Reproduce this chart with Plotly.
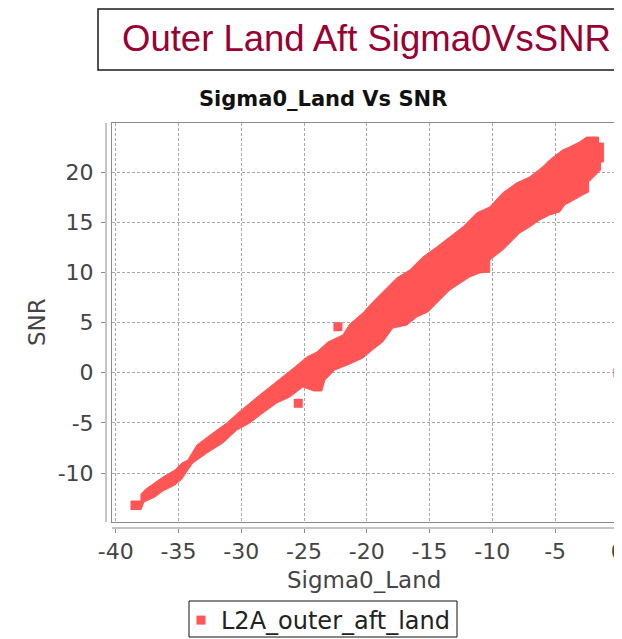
import plotly.graph_objects as go

# ---------------- data ----------------
# outline of the dense scatter band: upper edge left->right, then lower edge right->left
band_x = [-38.78, -38.78, -37.99, -37.99, -37.59, -36.24, -35.28, -34.73, -34.25, -33.53,
          -32.26, -31.15, -30.27, -29.32, -28.53, -27.33, -26.70, -25.73, -24.78, -23.98,
          -23.10, -21.91, -21.35, -20.32, -19.37, -18.57, -17.62, -16.58, -15.54, -14.43,
          -13.39, -12.36, -11.25, -10.21, -9.18, -8.07, -7.03, -6.00, -5.44, -4.40,
          -3.85, -3.05, -2.49, -1.54, -1.54, -1.14, -1.14, -1.38, -1.38, -2.33,
          -2.33, -2.81, -4.24, -4.64, -5.44, -6.23, -7.03, -7.82, -8.38, -9.18,
          -10.21, -10.21, -11.01, -11.81, -13.39, -14.19, -15.14, -16.02, -16.81, -17.93,
          -18.73, -19.37, -20.32, -21.35, -22.55, -23.34, -23.58, -24.22, -25.09, -26.13,
          -27.17, -28.28, -29.32, -30.35, -31.47, -32.74, -33.86, -34.25, -34.73, -35.28,
          -36.24, -36.88, -37.75, -37.99]
band_y = [-13.68, -12.79, -12.79, -12.09, -11.59, -10.40, -9.70, -9.00, -8.70, -7.21,
          -6.01, -5.01, -4.02, -3.02, -2.22, -1.03, -0.43, 0.57, 1.56, 2.06,
          3.06, 3.76, 4.85, 5.95, 7.25, 8.24, 9.44, 10.24, 11.53, 12.53,
          13.53, 14.52, 15.92, 16.52, 17.92, 18.91, 19.51, 20.51, 21.21, 22.20,
          22.50, 23.00, 23.49, 23.49, 22.89, 22.89, 21.00, 21.00, 20.20, 19.01,
          18.01, 17.71, 16.71, 16.01, 15.72, 15.22, 14.52, 13.92, 13.22, 12.22,
          11.23, 10.03, 9.94, 9.54, 8.24, 7.25, 6.05, 5.55, 4.75, 4.45,
          3.06, 2.46, 1.46, 0.87, 0.27, -0.73, -1.82, -1.82, -1.42, -2.42,
          -3.02, -4.02, -5.01, -5.71, -7.01, -8.01, -9.00, -9.70, -10.60, -11.19,
          -11.79, -12.39, -12.89, -13.68]

# isolated points
pts_x = [-22.3, -25.46, 0.0]
pts_y = [4.58, -3.05, 0.0]

series_name = "L2A_outer_aft_land"
x_ticks = [-40, -35, -30, -25, -20, -15, -10, -5, 0]
x_tick_text = ["-40", "-35", "-30", "-25", "-20", "-15", "-10", "-5", "0"]
y_ticks = [-10, -5, 0, 5, 10, 15, 20]
y_tick_text = ["-10", "-5", "0", "5", "10", "15", "20"]

# ---------------- layout geometry ----------------
OFF = 8                     # page body margin of the html page
W, H = 622 - OFF, 639 - OFF
# screen-pixel positions (reference) of the axes area / frame
SX0, SX1, SY0, SY1 = 106, 618, 123, 528   # outer area (offset axis lines)
FX0, FX1, FY0, FY1 = 112, 618, 123, 522   # inner plot frame
L, R, T, B = SX0 - OFF, W - (SX1 - OFF), SY0 - OFF, H - (SY1 - OFF)
pw, ph = W - L - R, H - T - B

def px_x(p):
    return (p - OFF - L) / pw

def px_y(p):
    return (H - B - (p - OFF)) / ph

# pixel scale of the axes (screen pixels)
sx = (618.3 - 115.7) / 40.0
sy = (472.7 - 171.7) / 30.0
x0_px, y0_px = 618.3, 372.7  # screen pixel of x=0, y=0

in_xr = [(FX0 - x0_px) / sx, 0.01]
in_yr = [(y0_px - FY1) / sy, (y0_px - FY0) / sy]
out_xr = [(SX0 - x0_px) / sx, 0.01]
out_yr = [(y0_px - SY1) / sy, (y0_px - SY0) / sy]

RED = "#FF5555"
GRID = "#a9a9a9"
FRAME = "#8a8a8a"
TXT = "#444444"
FONT = "DejaVu Sans"

fig = go.Figure()
# dummy on outer axes so they render
fig.add_trace(go.Scatter(x=[None], y=[None], xaxis="x", yaxis="y",
                         showlegend=False, hoverinfo="skip"))
fig.add_trace(go.Scatter(x=band_x, y=band_y, xaxis="x2", yaxis="y2", mode="lines",
                         fill="toself", fillcolor=RED, line=dict(color=RED, width=1),
                         showlegend=False, hoverinfo="skip"))
fig.add_trace(go.Scatter(x=pts_x, y=pts_y, xaxis="x2", yaxis="y2", mode="markers",
                         marker=dict(symbol="square", size=9, color=RED),
                         name=series_name, showlegend=True))

fig.update_layout(
    width=W, height=H,
    margin=dict(l=L, r=R, t=T, b=B, pad=0, autoexpand=False),
    paper_bgcolor="white", plot_bgcolor="white",
    font=dict(family=FONT, color=TXT),
    xaxis=dict(domain=[0, 1], range=out_xr, tickvals=x_ticks, ticktext=x_tick_text,
               showgrid=False, zeroline=False, showline=False, ticks="outside", ticklen=4,
               tickcolor=FRAME, tickfont=dict(size=22, color=TXT, family=FONT),
               anchor="y", fixedrange=True, automargin=False, ticklabeloverflow="allow"),
    yaxis=dict(domain=[0, 1], range=out_yr, tickvals=y_ticks, ticktext=y_tick_text,
               showgrid=False, zeroline=False, showline=False, ticks="outside", ticklen=4,
               tickcolor=FRAME, tickfont=dict(size=22, color=TXT, family=FONT),
               anchor="x", fixedrange=True, ticklabelstandoff=3, automargin=False,
               ticklabeloverflow="allow"),
    xaxis2=dict(domain=[px_x(FX0), px_x(FX1)], range=in_xr, tickvals=x_ticks,
                showgrid=True, gridcolor=GRID, griddash="3px,2px", gridwidth=1,
                zeroline=False, showline=True, mirror=True, linecolor=FRAME, linewidth=1,
                showticklabels=False, ticks="", anchor="y2", fixedrange=True),
    yaxis2=dict(domain=[px_y(FY1), px_y(FY0)], range=in_yr, tickvals=y_ticks,
                showgrid=True, gridcolor=GRID, griddash="3px,2px", gridwidth=1,
                zeroline=False, showline=True, mirror=True, linecolor=FRAME, linewidth=1,
                showticklabels=False, ticks="", anchor="x2", fixedrange=True),
    legend=dict(x=px_x(181), y=px_y(598), xanchor="left", yanchor="top",
                borderwidth=0, bgcolor="rgba(0,0,0,0)",
                font=dict(size=24, color="#222222", family=FONT),
                itemwidth=30),
    showlegend=True,
)

shapes = [
    # offset axis lines
    dict(type="line", xref="paper", yref="paper", x0=px_x(FX0), x1=px_x(FX1),
         y0=px_y(SY1), y1=px_y(SY1), line=dict(color=FRAME, width=1)),
    dict(type="line", xref="paper", yref="paper", x0=px_x(SX0), x1=px_x(SX0),
         y0=px_y(FY1), y1=px_y(FY0), line=dict(color=FRAME, width=1)),
    # header box
    dict(type="rect", xref="paper", yref="paper", x0=px_x(98), x1=px_x(650),
         y0=px_y(70), y1=px_y(9), line=dict(color="#1a1a1a", width=1.5)),
    # legend box
    dict(type="rect", xref="paper", yref="paper", x0=px_x(189), x1=px_x(457),
         y0=px_y(637), y1=px_y(601), line=dict(color="#111111", width=1)),
]
fig.update_layout(shapes=shapes)

annotations = [
    dict(text="Outer Land Aft Sigma0VsSNR", xref="paper", yref="paper",
         x=px_x(120), y=px_y(39), xanchor="left", yanchor="middle", showarrow=False,
         font=dict(family="Liberation Sans", size=36.5, color="#990033")),
    dict(text="<b>Sigma0_Land Vs SNR</b>", xref="paper", yref="paper",
         x=px_x(323), y=px_y(99), xanchor="center", yanchor="middle", showarrow=False,
         font=dict(family=FONT, size=21, color="#111111")),
    dict(text="Sigma0_Land", xref="paper", yref="paper",
         x=px_x(364), y=px_y(580), xanchor="center", yanchor="middle", showarrow=False,
         font=dict(family=FONT, size=23, color=TXT)),
    dict(text="SNR", xref="paper", yref="paper", textangle=-90,
         x=px_x(37), y=px_y(322), xanchor="center", yanchor="middle", showarrow=False,
         font=dict(family=FONT, size=23, color=TXT)),
]
fig.update_layout(annotations=annotations)

fig.write_html("out.html")
